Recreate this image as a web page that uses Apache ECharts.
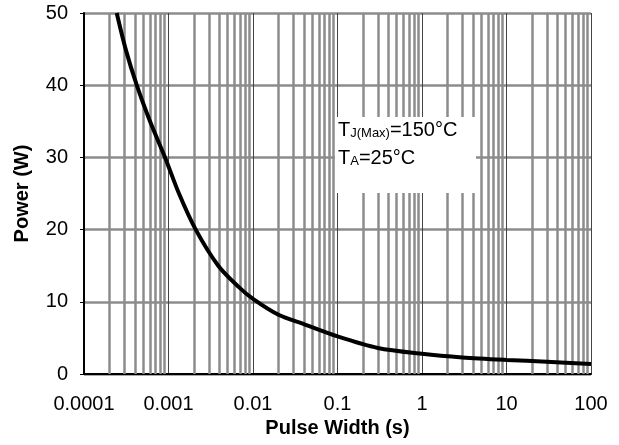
<!DOCTYPE html>
<html>
<head>
<meta charset="utf-8">
<script src="https://cdn.jsdelivr.net/npm/echarts@6/dist/echarts.min.js"></script>
<style>
  html, body { margin: 0; padding: 0; background: #fff; }
  #chart { width: 619px; height: 445px; }
</style>
</head>
<body>
<div id="chart"></div>
<script>
// pulse width (s) and power (W)
const pulseWidth = [0.000244, 0.000311, 0.000421, 0.000604, 0.00091, 0.00133, 0.0021, 0.00388, 0.0067,
  0.01, 0.02, 0.04, 0.1, 0.3, 1, 3, 10, 30, 100];
const power = [50, 45, 40, 35, 30, 25, 20, 15, 12.1,
  10.4, 8.2, 6.9, 5.2, 3.6, 2.8, 2.3, 1.95, 1.7, 1.4];

const xTickLabels = ["0.0001", "0.001", "0.01", "0.1", "1", "10", "100"];
const decades = [-4, -3, -2, -1, 0, 1];
const minorSteps = [2, 3, 4, 5, 6, 7, 8, 9];

const font = "Liberation Sans, Arial, sans-serif";

// minor log grid lines (2..9 of every decade)
const minorLines = [];
decades.forEach((d) => {
  minorSteps.forEach((m) => {
    minorLines.push({ xAxis: m * Math.pow(10, d) });
  });
});

const chart = echarts.init(document.getElementById("chart"));

const options = {
  animation: false,
  grid: { left: 84, right: 28, top: 13, bottom: 71 },
  xAxis: {
    type: "log",
    logBase: 10,
    min: 0.0001,
    max: 100,
    name: "Pulse Width (s)",
    nameLocation: "middle",
    nameGap: 44,
    nameTextStyle: { fontFamily: font, fontSize: 20, fontWeight: "bold", color: "#000" },
    axisLine: { onZero: false, lineStyle: { color: "#000", width: 2 } },
    axisTick: { show: false },
    axisLabel: {
      margin: 20,
      fontFamily: font,
      fontSize: 20,
      color: "#000",
      formatter: (v) => xTickLabels[Math.round(Math.log10(v)) + 4],
    },
    splitLine: { show: true, lineStyle: { color: "#444", width: 1 } },
  },
  yAxis: {
    type: "value",
    min: 0,
    max: 50,
    interval: 10,
    name: "Power (W)",
    nameLocation: "middle",
    nameGap: 52,
    nameTextStyle: { fontFamily: font, fontSize: 20, fontWeight: "bold", color: "#000" },
    axisLine: { show: true, lineStyle: { color: "#000", width: 2 } },
    axisTick: { show: true, length: 4, lineStyle: { color: "#000", width: 1 } },
    axisLabel: { margin: 16, fontFamily: font, fontSize: 20, color: "#000" },
    splitLine: { lineStyle: { color: "#8c8c8c", width: 2.5 } },
  },
  series: [
    {
      name: "minor",
      type: "line",
      data: [],
      silent: true,
      z: 1,
      markLine: {
        silent: true,
        symbol: "none",
        precision: 8,
        label: { show: false },
        lineStyle: { color: "#8c8c8c", width: 2.5, type: "solid" },
        data: minorLines,
      },
    },
    {
      name: "Power",
      type: "line",
      smooth: 0.3,
      symbol: "none",
      z: 5,
      lineStyle: { color: "#000", width: 4 },
      data: pulseWidth.map((x, i) => [x, power[i]]),
    },
  ],
  graphic: [
    {
      type: "rect",
      left: 335,
      top: 117,
      z: 10,
      shape: { width: 141, height: 76 },
      style: { fill: "#fff" },
    },
    {
      type: "text",
      left: 338,
      top: 120,
      z: 11,
      style: {
        text: "{t|T}{s|J(Max)}{t|=150°C}",
        rich: {
          t: { fontFamily: font, fontSize: 20, lineHeight: 24, verticalAlign: "bottom", fill: "#000" },
          s: { fontFamily: font, fontSize: 13, lineHeight: 1, verticalAlign: "bottom", fill: "#000" },
        },
      },
    },
    {
      type: "text",
      left: 338,
      top: 148,
      z: 11,
      style: {
        text: "{t|T}{s|A}{t|=25°C}",
        rich: {
          t: { fontFamily: font, fontSize: 20, lineHeight: 24, verticalAlign: "bottom", fill: "#000" },
          s: { fontFamily: font, fontSize: 13, lineHeight: 1, verticalAlign: "bottom", fill: "#000" },
        },
      },
    },
  ],
};

chart.setOption(options);

window.addEventListener("resize", () => {
  chart.resize();
});
</script>
</body>
</html>
